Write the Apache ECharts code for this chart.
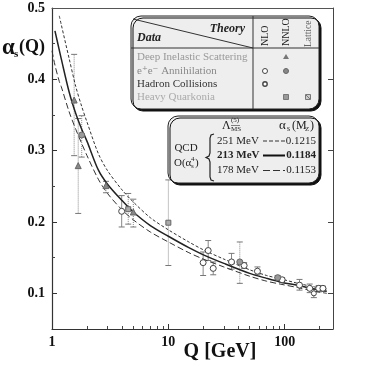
<!DOCTYPE html>
<html>
<head>
<meta charset="utf-8">
<script src="https://cdn.jsdelivr.net/npm/echarts@6/dist/echarts.min.js"></script>
<style>
html,body{margin:0;padding:0;background:#fff;}
#main{width:391px;height:376px;}
</style>
</head>
<body>
<div id="main"></div>
<script>
// tick labels
var xLabels = [1, 10, 100];
var xMajor = [10, 100];
var xMinor = [2, 3, 4, 5, 6, 7, 8, 9, 20, 30, 40, 50, 60, 70, 80, 90, 200];
var yLabels = [0.1, 0.2, 0.3, 0.4, 0.5];
var yMajor = [0.1, 0.2, 0.3, 0.4];
var yMinor = [0.15, 0.25, 0.35, 0.45];

// QCD curves (Q, alpha_s)
var curveQ   = [1.0, 1.06, 1.155, 1.2, 1.4, 1.6, 1.8, 2, 2.5, 3, 4, 5, 7, 10, 15, 20, 30, 50, 70, 91.2, 130, 180, 230];
var alphaHi  = [null, null, 0.489, 0.477, 0.430, 0.390, 0.362, 0.340, 0.296, 0.272, 0.245, 0.228, 0.206, 0.189, 0.172, 0.161, 0.148, 0.133, 0.125, 0.1205, 0.114, 0.109, 0.106];
var alphaMid = [null, 0.468, 0.441, 0.429, 0.383, 0.352, 0.330, 0.313, 0.273, 0.253, 0.230, 0.214, 0.195, 0.180, 0.164, 0.154, 0.142, 0.128, 0.121, 0.116, 0.111, 0.106, 0.103];
var alphaLo  = [0.440, 0.420, 0.397, 0.390, 0.355, 0.330, 0.310, 0.293, 0.260, 0.240, 0.217, 0.203, 0.186, 0.172, 0.157, 0.148, 0.137, 0.124, 0.117, 0.113, 0.108, 0.103, 0.100];

// measurements: [Q, alpha_s, low, high]
var disPts = [[1.55, 0.371, 0.293, 0.435], [1.68, 0.279, 0.212, 0.345], [2.91, 0.251, 0.241, 0.257], [5.0, 0.214, 0.193, 0.232]];
var eeNloPts = [[3.97, 0.215, 0.193, 0.237], [19.9, 0.143, 0.125, 0.158], [22, 0.160, 0.146, 0.174], [24.3, 0.135, 0.126, 0.144],
  [34.9, 0.144, 0.134, 0.156], [44.8, 0.139, 0.135, 0.143], [58.3, 0.131, 0.126, 0.137], [95, 0.119, 0.116, 0.122],
  [134, 0.1115, 0.1045, 0.1195], [164, 0.107, 0.101, 0.113], [196, 0.107, 0.102, 0.111], [213, 0.107, 0.103, 0.110]];
var eeNnloPts = [[1.80, 0.322, 0.291, 0.349], [41.1, 0.144, 0.114, 0.172], [87, 0.122, 0.119, 0.125]];
var hadronPts = [[178, 0.100, 0.094, 0.106]];
var quarkPts = [[4.52, 0.218, 0.197, 0.240], [10, 0.199, 0.139, 0.259]];

var serif = '"Liberation Serif","DejaVu Serif",serif';

function curve(ys){
  var out = [];
  for(var i = 0;i<curveQ.length;i++){
    if(ys[i]!=null) out.push([curveQ[i], ys[i]]);
  }
  return out;
}
function xy(pts){
  return pts.map(function(p){ return [p[0], p[1]]; });
}
function errRender(dotted){
  return function(params, api){
    var lo = api.coord([api.value(0), api.value(2)]);
    var hi = api.coord([api.value(0), api.value(3)]);
    var w = 3;
    var st = {stroke:'#777', lineWidth:1};
    return {type:'group', children:[
      {type:'line', shape:{x1:lo[0],y1:lo[1],x2:hi[0],y2:hi[1]}, style:{stroke:'#888', lineWidth:1, lineDash:dotted?[1,1]:null}},
      {type:'line', shape:{x1:lo[0]-w,y1:lo[1],x2:lo[0]+w,y2:lo[1]}, style:st},
      {type:'line', shape:{x1:hi[0]-w,y1:hi[1],x2:hi[0]+w,y2:hi[1]}, style:st}
    ]};
  };
}
function errSeries(pts, dotted){
  return {type:'custom', renderItem:errRender(dotted), data:pts, encode:{x:0, y:[2,3]}, z:2, silent:true};
}
function pointSeries(pts, symbol, fill, border, size){
  return {type:'scatter', data:xy(pts), symbol:symbol, symbolSize:size||6, z:4,
    itemStyle:{color:fill, borderColor:border, borderWidth:1, opacity:1}};
}

var mychart = echarts.init(document.getElementById('main'));

var xBase = {type:'log', logBase:10, min:1, max:260, gridIndex:0};
var yBase = {type:'value', min:0.05, max:0.5, gridIndex:0, splitLine:{show:false}};

var txt = function(x, y, text, o){
  o = o || {};
  return {type:'text', x:x, y:y, z:110, rotation:o.rot||0, style:{text:text, fill:o.color||'#222',
    font:(o.style||'')+' '+(o.weight||'normal')+' '+(o.size||11)+'px '+serif,
    align:o.align||'left', verticalAlign:o.va||'middle'}};
};
var ln = function(x1, y1, x2, y2, o){
  o = o || {};
  return {type:'line', z:110, shape:{x1:x1,y1:y1,x2:x2,y2:y2},
    style:{stroke:o.color||'#333', lineWidth:o.w||1, lineDash:o.dash||null}};
};

var graphics = [
  // box 1: data / theory table
  {type:'rect', z:105, shape:{x:131, y:16, width:188, height:93, r:10},
    style:{fill:'#eeeeee', stroke:'#222', lineWidth:1, shadowColor:'#111', shadowOffsetX:2, shadowOffsetY:2, shadowBlur:0}},
  ln(133, 19, 253, 48),
  ln(131, 48, 319, 48),
  ln(253, 16, 253, 109),
  txt(245, 29, 'Theory', {style:'italic', weight:'bold', size:12, align:'right'}),
  txt(137, 38, 'Data', {style:'italic', weight:'bold', size:12}),
  txt(265, 46, 'NLO', {rot:Math.PI/2, size:10}),
  txt(286, 46, 'NNLO', {rot:Math.PI/2, size:10}),
  txt(308, 47, 'Lattice', {rot:Math.PI/2, size:9.5, color:'#666'}),
  txt(137, 57, 'Deep Inelastic Scattering', {color:'#999'}),
  txt(137, 71, 'e\u207Ae\u207B Annihilation', {color:'#888'}),
  txt(137, 84, 'Hadron Collisions', {color:'#333'}),
  txt(137, 97, 'Heavy Quarkonia', {color:'#aaa'}),
  {type:'polygon', z:110, shape:{points:[[286,54],[289,59],[283,59]]}, style:{fill:'#777'}},
  {type:'circle', z:110, shape:{cx:265, cy:71, r:2.5}, style:{fill:'#fff', stroke:'#444'}},
  {type:'circle', z:110, shape:{cx:286, cy:71, r:2.5}, style:{fill:'#888', stroke:'#666'}},
  {type:'circle', z:110, shape:{cx:265, cy:84, r:2.2}, style:{fill:'#fff', stroke:'#444', lineWidth:1.4}},
  {type:'rect', z:110, shape:{x:283.5, y:94.5, width:5, height:5}, style:{fill:'#999', stroke:'#777'}},
  {type:'rect', z:110, shape:{x:305.5, y:94.5, width:5, height:5}, style:{fill:'#ccc', stroke:'#777'}},
  ln(306, 95, 310, 99, {color:'#777'}),

  // box 2: curve legend
  {type:'rect', z:105, shape:{x:168, y:116, width:151, height:67, r:10},
    style:{fill:'#eeeeee', stroke:'#222', lineWidth:1, shadowColor:'#111', shadowOffsetX:2, shadowOffsetY:2, shadowBlur:0}},
  txt(222, 126, '\u039B', {size:12}),
  txt(231, 120, '(5)', {size:7}),
  txt(231, 129, 'MS', {size:7}),
  ln(231, 125.5, 240, 125.5, {w:0.6}),
  txt(279, 126, '\u03B1', {size:13}),
  txt(287, 129, 's', {size:8}),
  txt(292, 126, '(M', {size:12}),
  txt(305, 129, 'Z', {size:7}),
  txt(310, 126, ')', {size:12}),
  txt(186, 148, 'QCD', {size:11, align:'center'}),
  txt(174, 163, 'O(\u03B1', {size:11}),
  txt(191, 159, '4', {size:7}),
  txt(191, 166, 's', {size:7}),
  txt(195, 163, ')', {size:11}),
  {type:'polyline', z:110, shape:{points:[[214,134],[211,135],[210,138],[210,153],[209,156],[206,157.5],[209,159],[210,162],[210,177],[211,180],[214,181]]},
    style:{fill:null, stroke:'#222', lineWidth:1.2}},
  txt(217, 141, '251 MeV', {size:11}),
  txt(217, 155.5, '213 MeV', {size:11, weight:'bold'}),
  txt(217, 170.5, '178 MeV', {size:11}),
  ln(263, 141, 285, 141, {dash:[4,2]}),
  ln(263, 155.5, 285, 155.5, {w:2, color:'#111'}),
  ln(263, 170.5, 285, 170.5, {dash:[7,3]}),
  txt(316, 141, '0.1215', {size:11, align:'right'}),
  txt(316, 155.5, '0.1184', {size:11, weight:'bold', align:'right'}),
  txt(316, 170.5, '0.1153', {size:11, align:'right'}),

  // axis titles
  txt(2, 48, '\u03B1', {size:23, weight:'bold', color:'#111'}),
  txt(14, 54, 's', {size:11, weight:'bold', color:'#111'}),
  txt(19, 47, '(Q)', {size:18, weight:'bold', color:'#111'}),
  txt(220, 352, 'Q [GeV]', {size:20, weight:'bold', color:'#111', align:'center'})
];

var option = {
  animation:false,
  backgroundColor:'#fff',
  grid:{left:52, right:58, top:8, bottom:47, outerBoundsMode:'none'},
  xAxis:[
    Object.assign({}, xBase, {position:'bottom',
      axisLine:{show:true, lineStyle:{color:'#333', width:1.2}},
      axisTick:{inside:true, length:5, customValues:xMajor, lineStyle:{color:'#333'}},
      axisLabel:{customValues:xLabels, margin:6, color:'#111', fontFamily:serif, fontWeight:'bold', fontSize:14},
      splitLine:{show:false}}),
    Object.assign({}, xBase, {position:'bottom',
      axisLine:{show:false},
      axisTick:{inside:true, length:3, customValues:xMinor, lineStyle:{color:'#444'}},
      axisLabel:{show:false}, splitLine:{show:false}}),
    Object.assign({}, xBase, {position:'top',
      axisLine:{show:true, lineStyle:{color:'#555', width:1}},
      axisTick:{show:false}, axisLabel:{show:false}, splitLine:{show:false}})
  ],
  yAxis:[
    Object.assign({}, yBase, {position:'left',
      axisLine:{show:true, lineStyle:{color:'#333', width:1.2}},
      axisTick:{inside:true, length:5, customValues:yMajor, lineStyle:{color:'#333'}},
      axisLabel:{customValues:yLabels, margin:7, color:'#111', fontFamily:serif, fontWeight:'bold', fontSize:14}}),
    Object.assign({}, yBase, {position:'left',
      axisLine:{show:false},
      axisTick:{inside:true, length:3, customValues:yMinor, lineStyle:{color:'#444'}},
      axisLabel:{show:false}}),
    Object.assign({}, yBase, {position:'right',
      axisLine:{show:true, lineStyle:{color:'#444', width:1}},
      axisTick:{inside:true, length:5, customValues:yMajor, lineStyle:{color:'#444'}},
      axisLabel:{show:false}})
  ],
  graphic:graphics,
  series:[
    {type:'line', data:curve(alphaHi), showSymbol:false, smooth:0.3, z:3,
      lineStyle:{color:'#333', width:1, type:[3,2]}},
    {type:'line', data:curve(alphaMid), showSymbol:false, smooth:0.3, z:3,
      lineStyle:{color:'#222', width:1.5}},
    {type:'line', data:curve(alphaLo), showSymbol:false, smooth:0.3, z:3,
      lineStyle:{color:'#333', width:1, type:[6,3]}},
    errSeries(disPts, true),
    errSeries(eeNloPts, false),
    errSeries(eeNnloPts, true),
    errSeries(hadronPts, false),
    errSeries(quarkPts, true),
    pointSeries(disPts, 'triangle', '#888', '#666', 6),
    pointSeries(eeNloPts, 'circle', '#fff', '#444', 6),
    pointSeries(eeNnloPts, 'circle', '#999', '#666', 6),
    pointSeries(hadronPts, 'circle', '#fff', '#444', 5),
    pointSeries(quarkPts, 'rect', '#aaa', '#666', 5)
  ]
};
mychart.setOption(option);
</script>
</body>
</html>
